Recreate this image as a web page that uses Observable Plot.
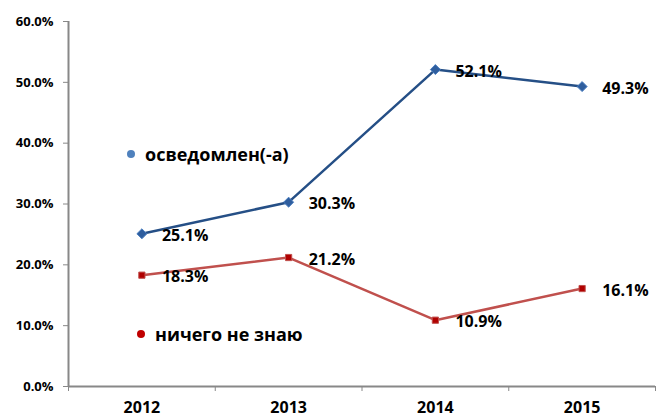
<!DOCTYPE html>
<html>
<head>
<meta charset="utf-8">
<script src="https://cdn.jsdelivr.net/npm/d3@7"></script>
<script src="https://cdn.jsdelivr.net/npm/@observablehq/plot@0.6"></script>
<style>
  html, body { margin: 0; padding: 0; background: #fff; }
  #wrap { position: relative; width: 661px; height: 418px; font-family: "Open Sans", sans-serif; }
  #wrap svg { font-family: "Open Sans", sans-serif; }
  .legend { position: absolute; font-weight: bold; font-size: 18px; color: #000; display: flex; align-items: center; white-space: nowrap; }
  .legend .dot { width: 8px; height: 8px; border-radius: 50%; display: inline-block; margin-right: 10px; }
</style>
</head>
<body>
<div id="wrap"></div>
<script>
const years = ["2012", "2013", "2014", "2015"];
const informed = [25.1, 30.3, 52.1, 49.3];
const dontKnow = [18.3, 21.2, 10.9, 16.1];
const yTicks = [0, 10, 20, 30, 40, 50, 60];
const seriesNames = ["осведомлен(-а)", "ничего не знаю"];
const seriesColors = ["#254F86", "#C0504D"];
const legendDotColors = ["#4F81BD", "#C00000"];

const rows = [];
years.forEach((yr, i) => {
  rows.push({ series: seriesNames[0], pos: i + 0.5, year: yr, value: informed[i] });
  rows.push({ series: seriesNames[1], pos: i + 0.5, year: yr, value: dontKnow[i] });
});
const blue = rows.filter(d => d.series === seriesNames[0]);
const red = rows.filter(d => d.series === seriesNames[1]);
const fmt = v => v.toFixed(1) + "%";

const chart = Plot.plot({
  width: 661,
  height: 418,
  marginLeft: 68,
  marginRight: 6,
  marginTop: 21,
  marginBottom: 32,
  x: { domain: [0, years.length], axis: null, label: null },
  y: { domain: [0, 60], axis: null, label: null },
  marks: [
    Plot.axisY({ ticks: yTicks, tickFormat: d => d.toFixed(1) + "%", tickSize: 5, tickPadding: 10, stroke: "#888", fill: "#000", fontSize: 13, fontWeight: "bold", label: null }),
    Plot.axisX({ ticks: d3.range(years.length + 1), tickFormat: () => "", tickSize: 5, stroke: "#888", label: null }),
    Plot.axisX({ ticks: years.map((_, i) => i + 0.5), tickFormat: d => years[Math.floor(d)], tickSize: 0, tickPadding: 15, fill: "#000", fontSize: 16, fontWeight: "bold", label: null }),
    Plot.ruleX([0], { stroke: "#888", strokeWidth: 2 }),
    Plot.ruleY([0], { stroke: "#888", strokeWidth: 2 }),
    Plot.line(blue, { x: "pos", y: "value", stroke: seriesColors[0], strokeWidth: 2.5 }),
    Plot.line(red, { x: "pos", y: "value", stroke: seriesColors[1], strokeWidth: 2.5 }),
    Plot.dot(blue, { x: "pos", y: "value", symbol: "diamond2", r: 4.5, fill: "#2F5E9E", stroke: "#4A7EC0", strokeWidth: 1 }),
    Plot.dot(red, { x: "pos", y: "value", symbol: "square", r: 3.5, fill: "#B00000", stroke: "#C0504D", strokeWidth: 1 }),
    Plot.text(rows, { x: "pos", y: "value", text: d => fmt(d.value), textAnchor: "start", dx: 20, dy: 2, fontSize: 16, fontWeight: "bold", fill: "#000" })
  ]
});

const wrap = document.getElementById("wrap");
wrap.appendChild(chart);

const legendPos = [{ left: 127, top: 142 }, { left: 137, top: 322 }];
seriesNames.forEach((name, i) => {
  const el = document.createElement("div");
  el.className = "legend";
  el.style.left = legendPos[i].left + "px";
  el.style.top = legendPos[i].top + "px";
  const dot = document.createElement("span");
  dot.className = "dot";
  dot.style.background = legendDotColors[i];
  el.appendChild(dot);
  el.appendChild(document.createTextNode(name));
  wrap.appendChild(el);
});
</script>
</body>
</html>
